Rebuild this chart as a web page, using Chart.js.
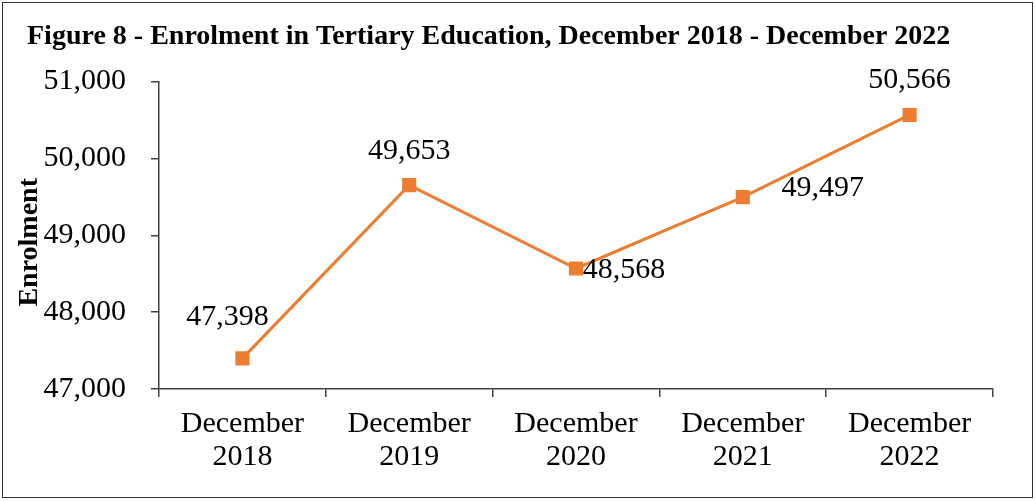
<!DOCTYPE html>
<html>
<head>
<meta charset="utf-8">
<script src="https://cdn.jsdelivr.net/npm/chart.js@4/dist/chart.umd.min.js"></script>
<style>
  html, body { margin: 0; padding: 0; background: #fff; }
  #wrap { position: relative; width: 1036px; height: 501px; }
  #frame { position: absolute; left: 2px; top: 2px; width: 1029px; height: 494px;
           border: 1.5px solid #333; pointer-events: none; }
</style>
</head>
<body>
<div id="wrap">
  <canvas id="enrolChart" width="1036" height="501"></canvas>
  <div id="frame"></div>
</div>
<script>
/////////////////////////////// DATA ///////////////////////////////
const years = [["December", "2018"], ["December", "2019"], ["December", "2020"], ["December", "2021"], ["December", "2022"]];
const enrolment = [47398, 49653, 48568, 49497, 50566];
const yTicks = [47000, 48000, 49000, 50000, 51000];

// label offset from each point, in pixels
const labelOffsets = [[-15, -41], [0, -34], [48, 2], [80, -9], [0, -35]];

const c_line = "#ED7D31";
const serif = "'Liberation Serif', 'Times New Roman', serif";

/////////////////////////////// PLUGINS ///////////////////////////////

// Draws the value beside each point
const valueLabels = {
    id: "valueLabels",
    afterDatasetsDraw(chart) {
        const ctx = chart.ctx;
        const meta = chart.getDatasetMeta(0);
        ctx.save();
        ctx.font = "30px " + serif;
        ctx.fillStyle = "#000";
        ctx.textAlign = "center";
        ctx.textBaseline = "middle";
        meta.data.forEach((pt, i) => {
            const txt = enrolment[i].toLocaleString("en-US");
            ctx.fillText(txt, pt.x + labelOffsets[i][0], pt.y + labelOffsets[i][1]);
        });
        ctx.restore();
    }
};

/////////////////////////////// CREATE CHART ///////////////////////////////
const ctx = document.getElementById("enrolChart").getContext("2d");
const enrolChart = new Chart(ctx, {
    type: "line",
    data: {
        labels: years,
        datasets: [{
            label: "Enrolment",
            data: enrolment,
            borderColor: c_line,
            backgroundColor: c_line,
            borderWidth: 3,
            pointStyle: "rect",
            pointRadius: 10,
            pointBorderWidth: 0,
            tension: 0,
        }],
    },
    options: {
        responsive: false,
        animation: false,
        layout: { padding: { left: 27, right: 43, top: 0, bottom: 0 } },
        plugins: {
            legend: { display: false },
            tooltip: { enabled: false },
            title: {
                display: true,
                text: "Figure 8 - Enrolment in Tertiary Education, December 2018 - December 2022",
                align: "start",
                color: "#000",
                font: { family: serif, size: 28, weight: "bold" },
                padding: { top: 20, bottom: 28 },
            },
        },
        scales: {
            x: {
                offset: true,
                afterFit: (scale) => { scale.height = 112; },
                grid: { display: true, offset: true, drawOnChartArea: false, tickLength: 8, color: "#404040", lineWidth: 1.5 },
                border: { color: "#404040", width: 1.5 },
                ticks: { color: "#000", font: { family: serif, size: 30, lineHeight: 1.1 }, padding: 11, maxRotation: 0 },
            },
            y: {
                min: 47000,
                max: 51000,
                afterBuildTicks: (scale) => { scale.ticks = yTicks.map(v => ({ value: v })); },
                afterFit: (scale) => { scale.width = 132; },
                grid: { display: true, drawOnChartArea: false, tickLength: 8, color: "#404040", lineWidth: 1.5 },
                border: { color: "#404040", width: 1.5 },
                ticks: {
                    color: "#000",
                    font: { family: serif, size: 30 },
                    padding: 25,
                    callback: (v) => v.toLocaleString("en-US"),
                },
                title: {
                    display: true,
                    text: "Enrolment  ",
                    color: "#000",
                    font: { family: serif, size: 28, weight: "bold" },
                    padding: { top: -14, bottom: 0 },
                },
            },
        },
    },
    plugins: [valueLabels],
});
</script>
</body>
</html>
